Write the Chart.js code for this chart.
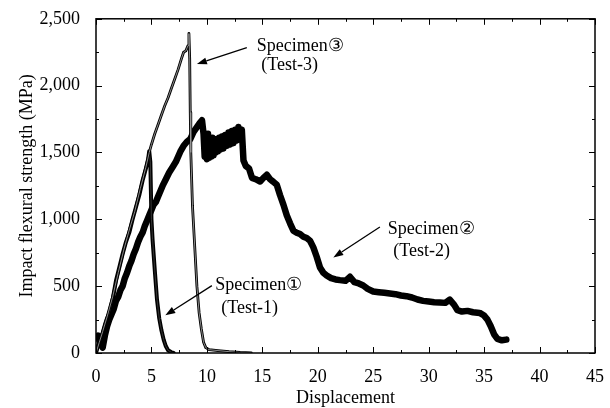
<!DOCTYPE html>
<html><head><meta charset="utf-8">
<script src="https://cdn.jsdelivr.net/npm/chart.js@4.4.0/dist/chart.umd.min.js"></script>
<style>html,body{margin:0;padding:0;background:#fff}#wrap{width:610px;height:408px}</style>
</head><body><div id="wrap"><canvas id="c" width="610" height="408"></canvas></div>
<script>
// ---- data (Displacement vs Impact flexural strength, MPa) ----
const test1X = [0,0.2,0.4,0.6,0.8,1.0,1.2,1.5,1.8,2.1,2.4,2.7,3.0,3.3,3.6,3.9,4.2,4.5,4.7,4.8,4.9,5.0,5.1,5.3,5.5,5.7,5.9,6.1,6.3,6.5,6.8,7.0];
const test1Y = [0,60,90,150,210,260,300,400,540,640,740,830,900,1000,1090,1180,1290,1380,1450,1510,1430,1000,850,620,400,260,170,100,50,20,5,0];

const test2X = [0.05,0.2,0.4,0.6,0.8,1.0,1.2,1.4,1.6,1.8,2.0,2.2,2.4,2.6,2.8,3.0,3.2,3.4,3.6,3.8,4.0,4.2,4.4,4.6,4.8,5.0,5.2,5.4,5.6,5.8,6.0,6.3,6.6,6.9,7.2,7.6,7.9,8.2,8.5,8.8,9.1,9.35,9.56,9.7,9.8,9.9,10.0,10.1,10.2,10.3,10.4,10.5,10.6,10.7,10.8,10.9,11.0,11.1,11.2,11.35,11.5,11.65,11.8,11.95,12.1,12.25,12.4,12.55,12.7,12.85,13.0,13.15,13.3,13.5,13.8,14.07,14.4,14.8,15.1,15.4,15.7,16.0,16.3,16.6,16.9,17.2,17.5,17.8,18.1,18.4,18.7,19.0,19.3,19.6,19.9,20.2,20.5,20.8,21.2,21.6,22.0,22.5,22.9,23.3,23.7,24.1,24.5,25.0,25.5,26.0,26.5,27.0,27.5,28.0,28.5,29.0,29.5,30.0,30.5,31.0,31.5,31.9,32.3,32.6,33.0,33.5,34.0,34.6,35.0,35.3,35.6,35.9,36.2,36.6,37.0];
const test2Y = [110,130,70,40,130,200,250,290,330,390,420,470,500,560,600,650,690,740,780,830,870,900,950,990,1030,1070,1110,1130,1170,1210,1250,1300,1350,1390,1430,1506,1550,1580,1600,1654,1690,1720,1741,1640,1470,1620,1450,1640,1460,1600,1470,1610,1480,1590,1500,1600,1510,1610,1520,1620,1530,1630,1550,1650,1560,1660,1570,1670,1590,1690,1610,1670,1440,1400,1380,1310,1300,1283,1310,1333,1300,1280,1259,1180,1110,1030,970,915,900,890,870,860,840,790,720,640,600,580,560,550,545,540,570,530,520,505,480,460,455,450,445,440,430,425,415,400,390,385,380,378,375,399,360,320,310,315,305,300,280,250,200,140,105,95,100];

const test3X = [0,0.3,0.6,1.0,1.5,2.0,2.5,3.0,3.5,4.0,4.5,4.8,5.0,5.3,5.6,5.9,6.2,6.5,6.8,7.1,7.4,7.7,7.9,8.1,8.3,8.38,8.45,8.5,8.55,8.7,8.9,9.1,9.3,9.5,9.7,9.9,10.2,11,12,13,14];
const test3Y = [0,80,160,270,420,600,770,920,1060,1230,1390,1500,1560,1640,1710,1780,1850,1910,1980,2050,2120,2200,2250,2260,2300,2390,2200,1800,1500,1100,800,500,300,180,80,40,25,18,10,4,0];

const xTitle = 'Displacement';
const yTitle = 'Impact flexural strength (MPa)';
const noteTexts = ['Specimen③','(Test-3)','Specimen②','(Test-2)','Specimen①','(Test-1)'];
const noteX = [14.5,14.9,26.3,26.8,10.75,11.3];
const noteY = [2297,2149,927,764,504,334];
const arrowFromX = [13.6,25.6,10.45];
const arrowFromY = [2285,942,504];
const arrowToX = [9.1,21.4,6.25];
const arrowToY = [2161,714,282];

const pts = (xs, ys) => xs.map((x, i) => ({x, y: ys[i]}));
const FONT = '"Liberation Serif", "Times New Roman", serif';

const framePlugin = {
  id: 'frame',
  afterDatasetsDraw(chart) {
    const {ctx, chartArea: a, scales: {x, y}} = chart;
    ctx.save();
    ctx.strokeStyle = '#000';
    ctx.lineWidth = 1.5;
    ctx.strokeRect(a.left, a.top, a.right - a.left, a.bottom - a.top);
    ctx.lineWidth = 1;
    ctx.beginPath();
    const xt = x.ticks.map(t => t.value);
    for (let i = 0; i < xt.length; i++) {
      const vals = [[xt[i], 6]];
      if (i < xt.length - 1) vals.push([(xt[i] + xt[i + 1]) / 2, 3]);
      for (const [v, len] of vals) {
        const px = Math.round(x.getPixelForValue(v)) + 0.5;
        ctx.moveTo(px, a.bottom); ctx.lineTo(px, a.bottom - len);
        ctx.moveTo(px, a.top); ctx.lineTo(px, a.top + len);
      }
    }
    const yt = y.ticks.map(t => t.value);
    for (let i = 0; i < yt.length; i++) {
      const vals = [[yt[i], 6]];
      if (i < yt.length - 1) vals.push([(yt[i] + yt[i + 1]) / 2, 3]);
      for (const [v, len] of vals) {
        const py = Math.round(y.getPixelForValue(v)) + 0.5;
        ctx.moveTo(a.left, py); ctx.lineTo(a.left + len, py);
        ctx.moveTo(a.right, py); ctx.lineTo(a.right - len, py);
      }
    }
    ctx.stroke();
    // annotations
    ctx.fillStyle = '#000';
    ctx.font = '18px ' + FONT;
    ctx.textBaseline = 'middle';
    ctx.textAlign = 'left';
    noteTexts.forEach((t, i) => {
      ctx.fillText(t, x.getPixelForValue(noteX[i]), y.getPixelForValue(noteY[i]));
    });
    ctx.lineWidth = 1.3;
    arrowFromX.forEach((fx, i) => {
      const x1 = x.getPixelForValue(fx), y1 = y.getPixelForValue(arrowFromY[i]);
      const x2 = x.getPixelForValue(arrowToX[i]), y2 = y.getPixelForValue(arrowToY[i]);
      const ang = Math.atan2(y2 - y1, x2 - x1);
      const hl = 10, hw = 3.5;
      const bx = x2 - hl * Math.cos(ang), by = y2 - hl * Math.sin(ang);
      ctx.beginPath(); ctx.moveTo(x1, y1); ctx.lineTo(bx, by); ctx.stroke();
      ctx.beginPath();
      ctx.moveTo(x2, y2);
      ctx.lineTo(bx + hw * Math.sin(ang), by - hw * Math.cos(ang));
      ctx.lineTo(bx - hw * Math.sin(ang), by + hw * Math.cos(ang));
      ctx.closePath(); ctx.fill();
    });
    ctx.restore();
  }
};

const base = {pointRadius: 0, tension: 0, borderJoinStyle: 'round', borderCapStyle: 'round', fill: false};

new Chart(document.getElementById('c'), {
  type: 'line',
  data: {
    datasets: [
      Object.assign({label: 'Test-2', data: pts(test2X, test2Y), borderColor: '#000', borderWidth: 6.5, order: 5}, base),
      Object.assign({label: 'Test-1', data: pts(test1X, test1Y), borderColor: '#000', borderWidth: 4, order: 4}, base),
      Object.assign({label: 'Test-1 core', data: pts(test1X, test1Y), borderColor: '#444', borderWidth: 0.8, order: 3}, base),
      Object.assign({label: 'Test-3', data: pts(test3X, test3Y), borderColor: '#000', borderWidth: 2.8, order: 2}, base),
      Object.assign({label: 'Test-3 core', data: pts(test3X, test3Y), borderColor: '#9a9a9a', borderWidth: 0.9, order: 1}, base)
    ]
  },
  options: {
    responsive: false,
    animation: false,
    devicePixelRatio: 1,
    layout: {padding: {left: 0, right: 15, top: 16, bottom: 0}},
    plugins: {legend: {display: false}, tooltip: {enabled: false}},
    scales: {
      x: {
        type: 'linear', min: 0, max: 45,
        ticks: {stepSize: 5, color: '#000', font: {family: FONT, size: 18}, padding: 5, maxRotation: 0},
        grid: {display: false}, border: {display: false},
        title: {display: true, text: xTitle, color: '#000', font: {family: FONT, size: 18, lineHeight: 1}, padding: {top: 0, bottom: 1}},
        afterFit: s => { s.height = 55; }
      },
      y: {
        type: 'linear', min: 0, max: 2500,
        ticks: {stepSize: 500, color: '#000', font: {family: FONT, size: 18}, padding: 8,
          callback: v => Number(v).toLocaleString('en-US')},
        grid: {display: false}, border: {display: false},
        title: {display: true, text: yTitle, color: '#000', font: {family: FONT, size: 18, lineHeight: 1}, padding: {top: 18, bottom: 0}},
        afterFit: s => { s.width = 96; }
      }
    }
  },
  plugins: [framePlugin]
});
</script></body></html>
